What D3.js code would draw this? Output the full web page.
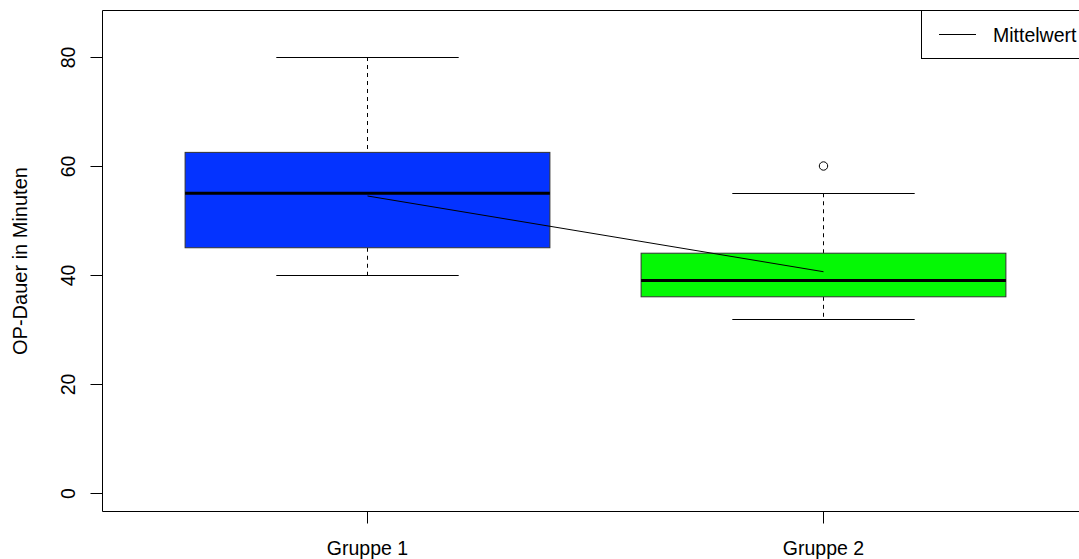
<!DOCTYPE html>
<html><head><meta charset="utf-8">
<script src="https://cdn.jsdelivr.net/npm/d3@7"></script>
<style>body{margin:0;background:#fff}svg{display:block}text{font-family:"Liberation Sans",Arial,sans-serif}</style>
</head><body><svg id="c" width="1079" height="559"></svg>
<script>
const categories = ["Gruppe 1", "Gruppe 2"];
const lowerWhisker = [40, 32];
const q1 = [45, 36];
const median = [55, 39];
const q3 = [62.5, 44];
const upperWhisker = [80, 55];
const outliers = [[], [60]];
const means = [54.5, 40.6];
const boxColors = ["#0433ff", "#05f805"];
const yTicks = [0, 20, 40, 60, 80];
const yLabel = "OP-Dauer in Minuten";
const legendLabel = "Mittelwert";

(function(){
const svg = d3.select("#c");
const W = 1079;
const FS = 19.5;
const pLeft = 102.5, pTop = 10.5, pBottom = 511.5;
const x = d3.scaleLinear().domain([0.42, 2.58]).range([pLeft, pLeft + 2.16 * 456]);
const y = d3.scaleLinear().domain([0, 80]).range([493, 57]);
const unit = x(2) - x(1);

// y axis
const yAxis = d3.axisLeft(y).tickValues(yTicks).tickSize(12).tickPadding(8);
const gy = svg.append("g").attr("transform", `translate(${pLeft},0)`).call(yAxis);
gy.select(".domain").remove();
gy.selectAll(".tick").attr("transform", d => `translate(0,${Math.round(y(d)) + 0.5})`);
gy.selectAll(".tick line").attr("stroke", "#000");
gy.selectAll(".tick text").attr("font-size", FS).attr("fill", "#000")
  .attr("x", null).attr("dy", null).attr("text-anchor", "middle")
  .attr("transform", "translate(-35,0) rotate(-90)").attr("y", 0).attr("dominant-baseline", "central");

// x axis
const xAxis = d3.axisBottom(x).tickValues([1, 2]).tickFormat((d, i) => categories[i]).tickSize(12);
const gx = svg.append("g").attr("transform", `translate(0,${pBottom})`).call(xAxis);
gx.select(".domain").remove();
gx.selectAll(".tick").attr("transform", d => `translate(${Math.round(x(d)) + 0.5},0)`);
gx.selectAll("line").attr("stroke", "#000");
gx.selectAll("text").attr("font-size", FS).attr("fill", "#000").attr("y", 43).attr("dy", null);

// plot frame (right side beyond view)
svg.append("path").attr("d", `M${W + 20},${pTop}H${pLeft}V${pBottom}H${W + 20}`)
  .attr("fill", "none").attr("stroke", "#000").attr("stroke-width", 1);

// y label
svg.append("text").attr("transform", `translate(19.5,261) rotate(-90)`)
  .attr("text-anchor", "middle").attr("dominant-baseline", "central").attr("font-size", 20).text(yLabel);

// boxes
categories.forEach((c, i) => {
  const cx = Math.round(x(i + 1)) + 0.5;
  const g = svg.append("g");
  const hw = 0.4 * unit, sw = 0.2 * unit;
  g.append("line").attr("x1", cx).attr("x2", cx).attr("y1", y(upperWhisker[i])).attr("y2", y(q3[i]))
    .attr("stroke", "#000").attr("stroke-dasharray", "4,4");
  g.append("line").attr("x1", cx).attr("x2", cx).attr("y1", y(q1[i])).attr("y2", y(lowerWhisker[i]))
    .attr("stroke", "#000").attr("stroke-dasharray", "4,4");
  [upperWhisker[i], lowerWhisker[i]].forEach(v => {
    g.append("line").attr("x1", cx - sw).attr("x2", cx + sw).attr("y1", Math.round(y(v)) + 0.5).attr("y2", Math.round(y(v)) + 0.5)
      .attr("stroke", "#000");
  });
  g.append("rect").attr("x", cx - hw).attr("width", 2 * hw)
    .attr("y", y(q3[i])).attr("height", y(q1[i]) - y(q3[i]))
    .attr("fill", boxColors[i]).attr("stroke", "#333").attr("stroke-width", 1);
  g.append("line").attr("x1", cx - hw).attr("x2", cx + hw).attr("y1", y(median[i])).attr("y2", y(median[i]))
    .attr("stroke", "#000").attr("stroke-width", 3);
  outliers[i].forEach(v => {
    g.append("circle").attr("cx", cx).attr("cy", y(v)).attr("r", 4.2)
      .attr("fill", "none").attr("stroke", "#000");
  });
});

// mean line
const line = d3.line().x((d, i) => Math.round(x(i + 1)) + 0.5).y(d => y(d));
svg.append("path").attr("d", line(means)).attr("fill", "none").attr("stroke", "#000").attr("stroke-width", 1);

// legend
svg.append("rect").attr("x", 921.5).attr("y", pTop).attr("width", 200).attr("height", 48)
  .attr("fill", "#fff").attr("stroke", "#000");
svg.append("line").attr("x1", 939).attr("x2", 976).attr("y1", 34.5).attr("y2", 34.5).attr("stroke", "#000");
svg.append("text").attr("x", 993).attr("y", 42).attr("font-size", FS).text(legendLabel);
})();
</script></body></html>
